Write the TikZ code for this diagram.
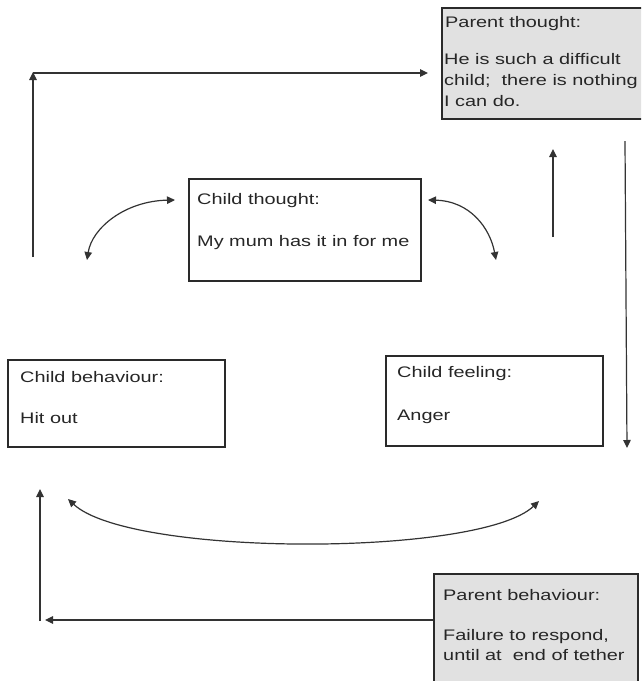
\documentclass[tikz,border=0pt]{standalone}
\usepackage{fontspec}
\setmainfont{Liberation Sans}[FakeStretch=1.3]
\usetikzlibrary{arrows.meta}
\definecolor{boxline}{HTML}{2A2A2A}
\definecolor{boxfill}{HTML}{E1E1E1}
\definecolor{linecol}{HTML}{333333}
\definecolor{txtcol}{HTML}{262626}
\begin{document}
\begin{tikzpicture}[x=1pt,y=-1pt,
  box/.style={draw=boxline, line width=1.5pt, inner sep=0pt, anchor=north west},
  shaded/.style={box, fill=boxfill},
  txt/.style={anchor=base west, inner sep=0pt, align=left,
    font=\fontsize{15.3}{21}\selectfont, text=txtcol},
  conn/.style={draw=linecol, line width=1.2pt},
  tip/.style={-{Triangle[length=8pt,width=7.5pt]}},
  tips/.style={{Triangle[length=8pt,width=7.5pt]}-{Triangle[length=8pt,width=7.5pt]}},
]
\useasboundingbox (0,0) rectangle (641,681);
\clip (0,0) rectangle (641,681);

% boxes
\node[shaded, minimum width=212pt, minimum height=111pt] (pt) at (441,7) {};
\node[box, minimum width=232pt, minimum height=102pt] (ct) at (188,178) {};
\node[box, minimum width=217pt, minimum height=87pt] (cb) at (7,359) {};
\node[box, minimum width=217pt, minimum height=90pt] (cf) at (385,355) {};
\node[shaded, minimum width=204pt, minimum height=110pt] (pb) at (433,573) {};

% texts (multi-line blocks sit on the baseline of their last line)
\node[txt] (pt-head) at (445,27) {Parent thought:};
\node[txt] (pt-body) at (444,106) {He is such a difficult\\child;\ \ there is nothing\\I can do.};
\node[txt] (ct-head) at (197,204) {Child thought:};
\node[txt] (ct-body) at (197,246) {My mum has it in for me};
\node[txt] (cb-head) at (20,382) {Child behaviour:};
\node[txt] (cb-body) at (20,423) {Hit out};
\node[txt] (cf-head) at (397,377) {Child feeling:};
\node[txt] (cf-body) at (397,420) {Anger};
\node[txt] (pb-head) at (443,600) {Parent behaviour:};
\node[txt, font=\fontsize{15.3}{20}\selectfont] (pb-body) at (443,660) {Failure to respond,\\until at\ \ end of tether};

% connector end points
\coordinate (a1) at (33,257);
\coordinate (a2) at (33,72);
\coordinate (a3) at (33,73);
\coordinate (a4) at (428,73);
\coordinate (b1) at (87,260);
\coordinate (b2) at (175,200);
\coordinate (c1) at (428,200);
\coordinate (c2) at (496,260);
\coordinate (d1) at (553,237);
\coordinate (d2) at (553,149);
\coordinate (e1) at (625,141);
\coordinate (e2) at (627,448);
\coordinate (f1) at (68,499);
\coordinate (f2) at (539,501);
\coordinate (g1) at (433,620);
\coordinate (g2) at (45,620);
\coordinate (h1) at (40,621);
\coordinate (h2) at (40,489);

% connectors
\draw[conn, tip] (a1) -- (a2);
\draw[conn, tip] (a3) -- (a4);
\draw[conn, tips] (b1) .. controls (92,228) and (125,201) .. (b2);
\draw[conn, tips] (c1) .. controls (470,201) and (490,228) .. (c2);
\draw[conn, tip] (d1) -- (d2);
\draw[conn, tip] (e1) -- (e2);
\draw[conn, tips] (f1) .. controls (130,557) and (480,557) .. (f2);
\draw[conn, tip] (g1) -- (g2);
\draw[conn, tip] (h1) -- (h2);
\end{tikzpicture}
\end{document}
